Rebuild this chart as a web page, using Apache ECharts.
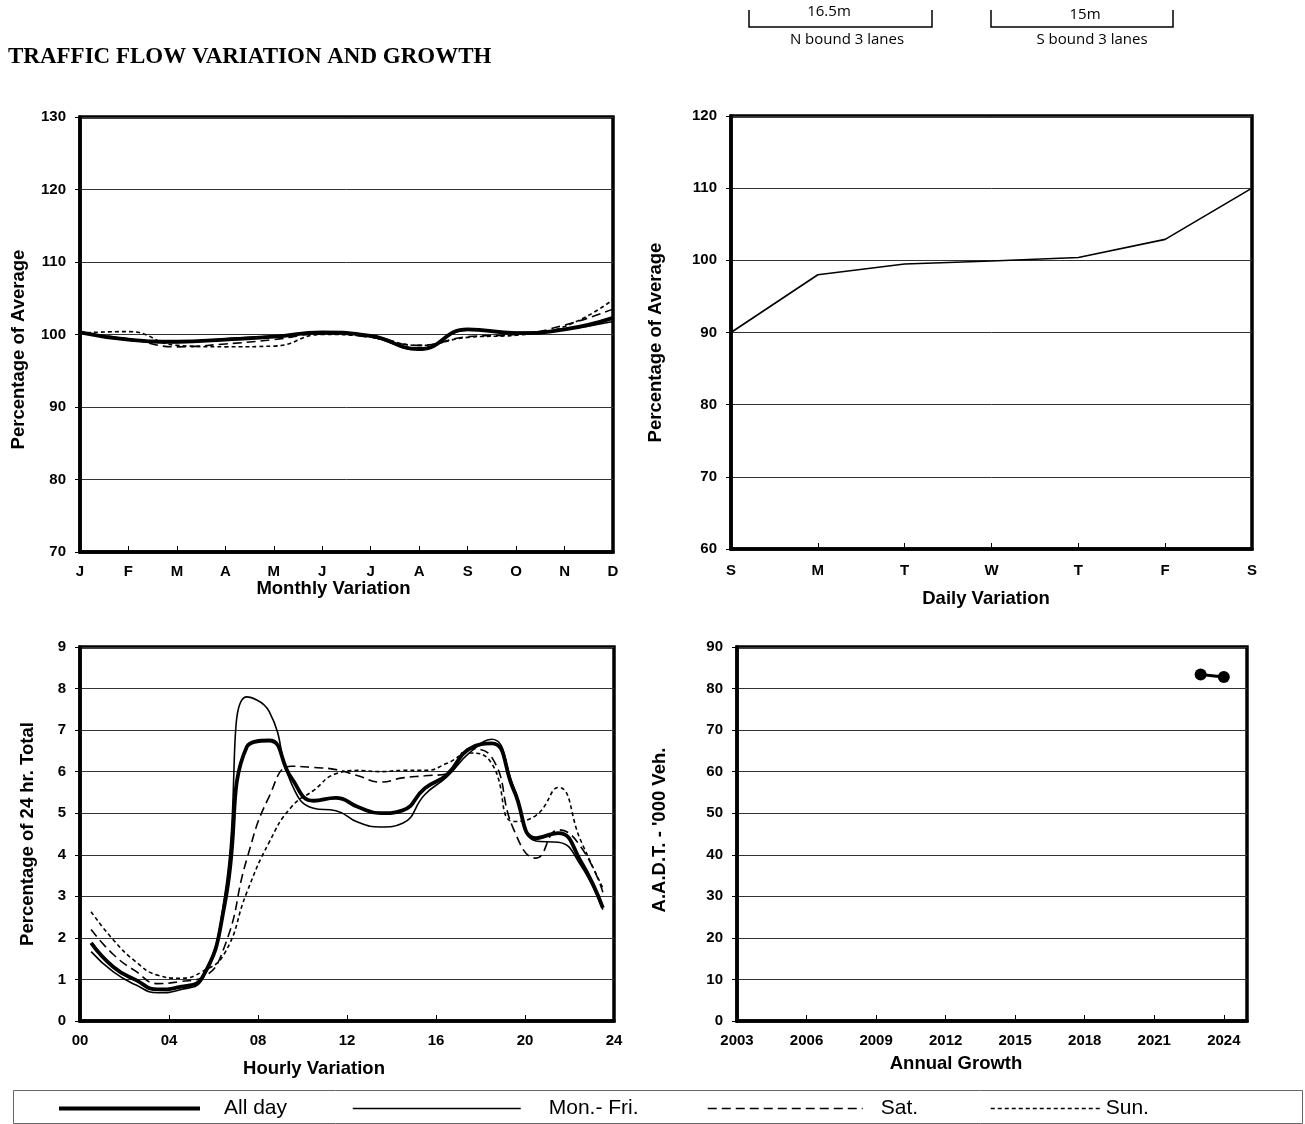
<!DOCTYPE html>
<html>
<head>
<meta charset="utf-8">
<script src="https://cdn.jsdelivr.net/npm/echarts@6/dist/echarts.min.js"></script>
<style>
html,body{margin:0;padding:0;background:#fff;}
#chart{width:1305px;height:1124px;}
</style>
</head>
<body>
<div id="chart"></div>
<script>
// ---------- DATA ----------
const months = ['J','F','M','A','M','J','J','A','S','O','N','D'];
const monthAllDay = [100.3, 99.3, 99.0, 99.3, 99.7, 100.3, 99.8, 98.0, 100.7, 100.2, 100.7, 102.3];
const monthMonFri = [100.4, 99.2, 98.9, 99.4, 99.8, 100.3, 99.7, 97.9, 100.6, 100.3, 100.7, 101.8];
const monthSat    = [100.2, 99.4, 98.3, 98.7, 99.3, 100.1, 99.6, 98.5, 99.7, 100.0, 101.3, 103.5];
const monthSun    = [100.2, 100.4, 98.5, 98.3, 98.4, 100.0, 99.7, 98.5, 99.6, 99.9, 101.1, 104.8];

const days = ['S','M','T','W','T','F','S'];
const dailyValues = [90.0, 98.0, 99.5, 99.9, 100.4, 102.9, 110.0];

const hours = [0.5,1.5,2.5,3.5,4.5,5.5,6.5,7.5,8.5,9.5,10.5,11.5,12.5,13.5,14.5,15.5,16.5,17.5,18.5,19.5,20.5,21.5,22.5,23.5];
const hourTickLabels = {0:'00',4:'04',8:'08',12:'12',16:'16',20:'20',24:'24'};
const hourAllDay = [1.88, 1.30, 0.99, 0.76, 0.82, 1.05, 2.80, 6.60, 6.75, 5.85, 5.30, 5.37, 5.15, 5.00, 5.07, 5.60, 5.93, 6.55, 6.68, 5.55, 4.40, 4.52, 3.85, 2.72];
const hourMonFri = [1.67, 1.18, 0.87, 0.68, 0.75, 1.02, 3.00, 7.80, 7.45, 5.72, 5.12, 5.06, 4.78, 4.67, 4.76, 5.45, 5.88, 6.45, 6.78, 5.62, 4.33, 4.30, 3.75, 2.68];
const hourSat    = [2.20, 1.60, 1.20, 0.90, 0.95, 1.05, 1.80, 3.90, 5.40, 6.13, 6.10, 6.05, 5.90, 5.75, 5.85, 5.90, 5.95, 6.55, 6.35, 4.60, 3.92, 4.60, 4.20, 3.10];
const hourSun    = [2.63, 1.95, 1.43, 1.10, 1.03, 1.19, 1.63, 3.10, 4.30, 5.15, 5.55, 5.95, 6.03, 6.00, 6.03, 6.03, 6.20, 6.45, 6.20, 4.80, 4.95, 5.62, 4.35, 3.20];

const years = ['2003','2004','2005','2006','2007','2008','2009','2010','2011','2012','2013','2014','2015','2016','2017','2018','2019','2020','2021','2022','2023','2024','2025'];
const aadtYears = ['2023','2024'];
const aadtValues = [83.4, 82.8];

// ---------- STYLES ----------
const FONT = 'Arial, "Liberation Sans", sans-serif';
const styles = {
  'All day':   {width: 3.8, type: 'solid'},
  'Mon.- Fri.':{width: 1.6, type: 'solid'},
  'Sat.':      {width: 1.6, type: [9, 5]},
  'Sun.':      {width: 1.6, type: [4, 3]}
};
const seriesNames = ['Sun.', 'Sat.', 'Mon.- Fri.', 'All day'];
const monthData = {'All day': monthAllDay, 'Mon.- Fri.': monthMonFri, 'Sat.': monthSat, 'Sun.': monthSun};
const hourData  = {'All day': hourAllDay, 'Mon.- Fri.': hourMonFri, 'Sat.': hourSat, 'Sun.': hourSun};

const grids = [
  {left: 80,  top: 117, width: 533, height: 435},
  {left: 731, top: 116, width: 521, height: 433},
  {left: 80,  top: 647, width: 534, height: 374},
  {left: 737, top: 647, width: 510, height: 374}
].map(g => Object.assign({show: true, borderColor: '#000', borderWidth: 3.5, backgroundColor: 'transparent'}, g));

const labelStyle = {color: '#000', fontFamily: FONT, fontWeight: 'bold', fontSize: 15};
const nameStyle = (padRight) => ({color: '#000', fontFamily: FONT, fontWeight: 'bold', fontSize: 18.5, padding: [0, padRight || 0, 0, 0]});
const splitLine = {show: true, lineStyle: {color: '#333', width: 1}};
const axisLine = {show: true, onZero: false, lineStyle: {color: '#000', width: 3.5}};

function yAxis(gridIndex, min, max, interval, name, gap, margin, pad) {
  return {
    type: 'value', gridIndex, min, max, interval,
    name, nameLocation: 'middle', nameGap: gap, nameRotate: 90,
    nameTextStyle: {color: '#000', fontFamily: FONT, fontWeight: 'bold', fontSize: 18.5, padding: pad},
    axisLine, axisTick: {show: true, inside: false, length: 5, lineStyle: {color: '#000', width: 1}},
    axisLabel: Object.assign({margin: margin}, labelStyle),
    splitLine
  };
}

const legendDefs = [
  {name: 'All day', left: 57, w: 141, pad: 19, lw: 4},
  {name: 'Mon.- Fri.', left: 352, w: 168, pad: 23, lw: 1.5},
  {name: 'Sat.', left: 707, w: 155, pad: 13, lw: 1.5},
  {name: 'Sun.', left: 990, w: 110, pad: 0, lw: 1.5}
];

const option = {
  animation: false,
  backgroundColor: '#fff',
  grid: grids,
  xAxis: [
    {
      type: 'category', gridIndex: 0, data: months, boundaryGap: false,
      name: 'Monthly Variation', nameLocation: 'middle', nameGap: 27, nameTextStyle: nameStyle(26),
      axisLine, axisTick: {show: true, inside: true, length: 6, lineStyle: {color: '#000'}},
      axisLabel: Object.assign({margin: 12, interval: 0}, labelStyle),
      splitLine: {show: false}
    },
    {
      type: 'category', gridIndex: 1, data: days, boundaryGap: false,
      name: 'Daily Variation', nameLocation: 'middle', nameGap: 40, nameTextStyle: nameStyle(11),
      axisLine, axisTick: {show: true, inside: true, length: 6, lineStyle: {color: '#000'}},
      axisLabel: Object.assign({margin: 14, interval: 0}, labelStyle),
      splitLine: {show: false}
    },
    {
      type: 'value', gridIndex: 2, min: 0, max: 24, interval: 4,
      name: 'Hourly Variation', nameLocation: 'middle', nameGap: 38, nameTextStyle: nameStyle(66),
      axisLine, axisTick: {show: true, inside: true, length: 6, lineStyle: {color: '#000'}},
      axisLabel: Object.assign({margin: 12, formatter: v => hourTickLabels[v] !== undefined ? hourTickLabels[v] : v}, labelStyle),
      splitLine: {show: false}
    },
    {
      type: 'category', gridIndex: 3, data: years, boundaryGap: false,
      name: 'Annual Growth', nameLocation: 'middle', nameGap: 33, nameTextStyle: nameStyle(72),
      axisLine, axisTick: {show: true, inside: true, length: 6, interval: 2, lineStyle: {color: '#000'}},
      axisLabel: Object.assign({margin: 12, interval: 2}, labelStyle),
      splitLine: {show: false}
    }
  ],
  yAxis: [
    yAxis(0, 70, 130, 10, 'Percentage of Average', 52, 14, [0, 30, 0, 0]),
    yAxis(1, 60, 120, 10, 'Percentage of Average', 66, 14, [0, 20, 0, 0]),
    yAxis(2, 0, 9, 1, 'Percentage of 24 hr. Total', 43, 14, [0, 0, 0, 0]),
    yAxis(3, 0, 90, 10, "A.A.D.T. - '000 Veh.", 68, 14, [0, 0, 0, 8])
  ],
  legend: legendDefs.map(l => ({
    data: [l.name], left: l.left, top: 1098, padding: 0,
    itemWidth: l.w, itemHeight: 20, selectedMode: false,
    itemStyle: {color: 'rgba(0,0,0,0)', borderColor: 'rgba(0,0,0,0)', borderWidth: 0, opacity: 0},
    lineStyle: {width: l.lw, color: '#000'},
    textStyle: {fontFamily: FONT, fontSize: 21, color: '#000', padding: [0, 0, 0, l.pad]}
  })),
  graphic: [
    {type: 'text', x: 8, y: 57, style: {text: 'TRAFFIC FLOW VARIATION AND GROWTH', fill: '#000', font: 'bold 23px "Times New Roman", "Liberation Serif", serif', textAlign: 'left', textVerticalAlign: 'middle'}, silent: true},
    {type: 'rect', shape: {x: 13.5, y: 1090.5, width: 1289, height: 33}, style: {fill: 'none', stroke: '#666', lineWidth: 1}, silent: true},
    {type: 'polyline', shape: {points: [[749, 10], [749, 27], [932, 27], [932, 10]]}, style: {fill: 'none', stroke: '#000', lineWidth: 1.5}, silent: true},
    {type: 'polyline', shape: {points: [[991, 10], [991, 27], [1173, 27], [1173, 10]]}, style: {fill: 'none', stroke: '#000', lineWidth: 1.5}, silent: true},
    {type: 'text', x: 829, y: 12, style: {text: '16.5m', fill: '#000', font: '15px "Open Sans", sans-serif', textAlign: 'center', textVerticalAlign: 'middle'}, silent: true},
    {type: 'text', x: 847, y: 40, style: {text: 'N bound 3 lanes', fill: '#000', font: '15px "Open Sans", sans-serif', textAlign: 'center', textVerticalAlign: 'middle'}, silent: true},
    {type: 'text', x: 1085, y: 15, style: {text: '15m', fill: '#000', font: '15px "Open Sans", sans-serif', textAlign: 'center', textVerticalAlign: 'middle'}, silent: true},
    {type: 'text', x: 1092, y: 40, style: {text: 'S bound 3 lanes', fill: '#000', font: '15px "Open Sans", sans-serif', textAlign: 'center', textVerticalAlign: 'middle'}, silent: true}
  ],
  series: []
};

seriesNames.forEach(n => {
  option.series.push({
    name: n, type: 'line', xAxisIndex: 0, yAxisIndex: 0, data: monthData[n],
    smooth: 0.5, symbol: 'none', lineStyle: {color: '#000', width: styles[n].width, type: styles[n].type},
    itemStyle: {color: '#000'}
  });
});
seriesNames.forEach(n => {
  option.series.push({
    name: n, type: 'line', xAxisIndex: 2, yAxisIndex: 2,
    data: hours.map((h, i) => [h, hourData[n][i]]),
    smooth: 0.5, symbol: 'none', lineStyle: {color: '#000', width: styles[n].width, type: styles[n].type},
    itemStyle: {color: '#000'}
  });
});
option.series.push({
  name: 'Daily', type: 'line', xAxisIndex: 1, yAxisIndex: 1, data: dailyValues,
  symbol: 'none', lineStyle: {color: '#000', width: 1.6}, itemStyle: {color: '#000'}
});
option.series.push({
  name: 'AADT', type: 'line', xAxisIndex: 3, yAxisIndex: 3,
  data: aadtYears.map((y, i) => [y, aadtValues[i]]),
  symbol: 'circle', symbolSize: 12, lineStyle: {color: '#000', width: 3}, itemStyle: {color: '#000'}
});

const chart = echarts.init(document.getElementById('chart'));
chart.setOption(option);
</script>
</body>
</html>
